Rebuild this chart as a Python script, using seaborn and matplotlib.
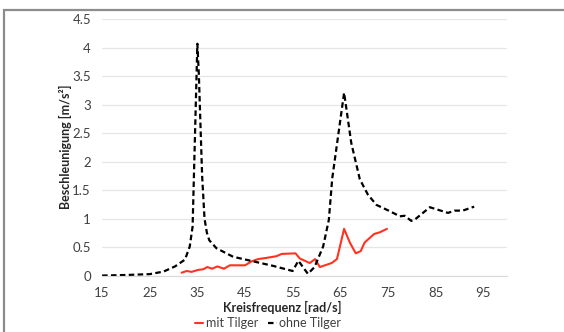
import matplotlib
matplotlib.use("Agg")
import matplotlib.pyplot as plt
import seaborn as sns
import pandas as pd
from matplotlib.patches import Rectangle
from matplotlib.ticker import FuncFormatter

# ---- data ----
freq_ohne = [15, 20, 25, 27.9, 30.3, 32.4, 33.4, 34.0, 35.0, 35.3, 36.0, 36.5, 37.0, 37.5,
             39.0, 42.5, 46.7, 50.9, 55.0, 56.2, 58.2, 59.6, 61.4, 62.6, 63.3, 65.8,
             67.3, 69.1, 70.8, 72.6, 75.4, 77.5, 78.5, 79.9, 80.6, 83.8, 87.6, 89.0,
             90.7, 93.1]
acc_ohne = [0.0, 0.01, 0.025, 0.07, 0.16, 0.28, 0.51, 0.86, 4.07, 3.55, 1.75, 1.0, 0.75, 0.62,
            0.48, 0.33, 0.25, 0.17, 0.08, 0.26, 0.03, 0.15, 0.51, 0.98, 1.7, 3.21,
            2.33, 1.69, 1.42, 1.24, 1.13, 1.04, 1.05, 0.96, 0.98, 1.2, 1.10, 1.14,
            1.14, 1.21]

freq_mit = [31.7, 32.75, 33.8, 35.2, 36.2, 37.1, 38.1, 39.2, 40.6, 41.8, 45.0, 46.4,
            47.8, 49.5, 51.6, 52.7, 55.6, 56.5, 58.6, 59.7, 60.7, 63.2, 64.3, 65.8,
            67.0, 68.25, 69.3, 70.1, 72.1, 73.3, 74.8]
acc_mit = [0.05, 0.08, 0.065, 0.10, 0.11, 0.15, 0.12, 0.16, 0.12, 0.18, 0.18, 0.25,
           0.29, 0.31, 0.34, 0.38, 0.39, 0.30, 0.22, 0.29, 0.15, 0.22, 0.29, 0.82,
           0.58, 0.39, 0.43, 0.58, 0.73, 0.76, 0.82]

x_ticks = [15, 25, 35, 45, 55, 65, 75, 85, 95]
y_ticks = [0, 0.5, 1, 1.5, 2, 2.5, 3, 3.5, 4, 4.5]

df_ohne = pd.DataFrame({"freq": freq_ohne, "acc": acc_ohne})
df_mit = pd.DataFrame({"freq": freq_mit, "acc": acc_mit})

sns.set_style("white")
plt.rcParams["font.family"] = ["Lato", "DejaVu Sans"]

fig = plt.figure(figsize=(5.64, 3.32), dpi=100)
ax = fig.add_axes([0.181, 0.170, 0.718, 0.772])

RED = "#FF3320"
sns.lineplot(data=df_mit, x="freq", y="acc", ax=ax, color=RED, lw=1.5,
             sort=False, estimator=None, label="mit Tilger")
sns.lineplot(data=df_ohne, x="freq", y="acc", ax=ax, color="black", lw=1.6,
             sort=False, estimator=None, label="ohne Tilger",
             dashes=False, linestyle=(0, (2.5, 1.5)))

ax.set_xlim(15, 100)
ax.set_ylim(0, 4.5)
ax.set_xticks(x_ticks)
ax.set_yticks(y_ticks)
ax.yaxis.set_major_formatter(FuncFormatter(lambda v, p: f"{v:g}"))
ax.grid(axis="y", color="#e6e6e6", lw=0.9)
ax.set_axisbelow(True)
for s in ["top", "right", "left"]:
    ax.spines[s].set_visible(False)
ax.spines["bottom"].set_color("#d9d9d9")
ax.tick_params(axis="x", length=4, color="#d9d9d9", labelsize=9.5, labelcolor="#404040", pad=4)
ax.tick_params(axis="y", length=0, labelsize=9.5, labelcolor="#404040", pad=8)

ax.set_xlabel("")
ax.set_ylabel("")
fig.text(282 / 564, 1 - 307 / 332, "Kreisfrequenz [rad/s]", ha="center", va="center",
         fontsize=9, fontweight="bold", color="#262626")
fig.text(65 / 564, 1 - 147 / 332, "Beschleunigung [m/s²]", ha="center", va="center",
         rotation=90, fontsize=9, fontweight="bold", color="#262626")

ax.legend(loc="center", bbox_to_anchor=(268 / 564, 1 - 323 / 332),
          bbox_transform=fig.transFigure, ncol=2, frameon=False, fontsize=9,
          handlelength=0.7, handletextpad=0.2, columnspacing=0.8,
          labelcolor="#404040", borderpad=0)

# gray chart frame (cut at right and bottom like the reference)
fig.patches.append(Rectangle((4 / 564, -0.1), 1.2, 1 - 10 / 332 + 0.1,
                             transform=fig.transFigure, fill=False,
                             edgecolor="#8c8c8c", lw=1.6))

fig.savefig("out.png", dpi=100)
